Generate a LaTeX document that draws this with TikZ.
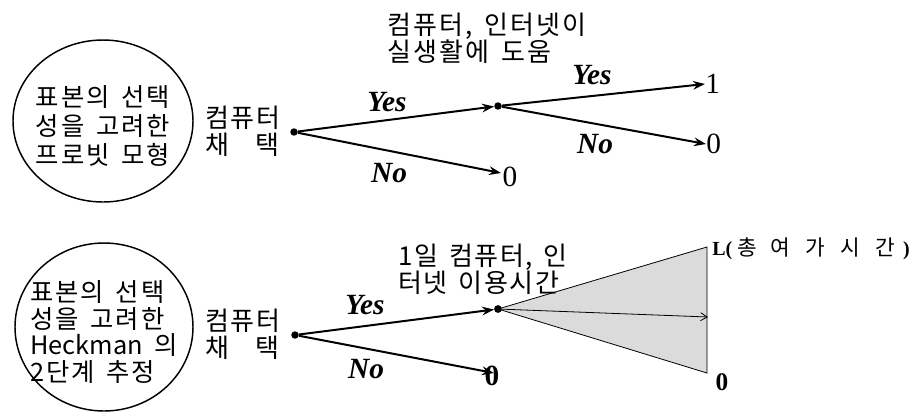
\documentclass[tikz,border=0pt]{standalone}
\usepackage{fontspec}
\setmainfont{Liberation Serif}
\newfontfamily\kfont[LetterSpace=8,WordSpace=1.5]{Noto Sans CJK KR}
\newfontfamily\kfontn[LetterSpace=6,WordSpace=1.5]{Noto Sans CJK KR}
\newfontfamily\kfontl[WordSpace=1.5]{Noto Sans CJK KR}
\newfontfamily\kfontw[LetterSpace=72]{Noto Sans CJK KR}
\usetikzlibrary{arrows.meta,shapes.geometric}
\begin{document}
\begin{tikzpicture}[x=0.75pt,y=-0.75pt,
  kor/.style={font=\kfontn\fontsize{19.5pt}{20.5pt}\selectfont, align=left, inner sep=0pt},
  bub/.style={font=\kfont\fontsize{19pt}{21.75pt}\selectfont, align=left, inner sep=0pt},
  yn/.style={font=\fontsize{22pt}{24pt}\selectfont\bfseries\itshape, inner sep=0pt},
  num/.style={font=\fontsize{22pt}{24pt}\selectfont, inner sep=0pt},
  dotnode/.style={circle, fill=black, inner sep=0pt, minimum size=5.6pt},
  tree/.style={line width=1.5pt, -{Stealth[length=9pt,width=6.5pt,inset=3pt]}},
  bubble/.style={draw, ellipse, line width=1.1pt, inner sep=0pt},
]
\useasboundingbox (0,0) rectangle (922,412);

% ---------- top ----------
\node[bubble, minimum width=135pt, minimum height=121.5pt] (c1) at (103,121) {};
\node[bub] (t1) at (103,126) {표본의 선택\\성을 고려한\\프로빗 모형};
\node[kor, anchor=west] (a1) at (205,131) {컴퓨터\\채\hspace{1em}택};

\node[dotnode] (d1) at (294,132) {};
\node[dotnode] (m1) at (498,106) {};
\node[num, anchor=west] (one) at (705,84) {1};
\node[num, anchor=west] (z1) at (706,144) {0};
\node[num] (z0) at (510,177) {0};
\coordinate (z0t) at (501,173);

\draw[tree] (d1) -- (m1);
\draw[tree] (d1) -- (z0t);
\draw[tree] (m1) -- (one.west);
\draw[tree] (m1) -- (z1.west);

\node[yn] (y1) at (387,102) {Yes};
\node[yn] (n1) at (389,173) {No};
\node[yn] (y2) at (592,75) {Yes};
\node[yn] (n2) at (595,144) {No};
\node[kor, anchor=west, font=\kfont\fontsize{19.5pt}{20.5pt}\selectfont] (q1) at (387,38) {컴퓨터, 인터넷이\\실생활에 도움};

% ---------- bottom ----------
\node[bubble, minimum width=133.5pt, minimum height=126pt] (c2) at (104,327) {};
\node[bub, font=\kfont\fontsize{19pt}{20pt}\selectfont] (t2) at (104,332) {표본의 선택\\성을 고려한\\{\kfontl Heckman} 의\\2단계 추정};
\node[kor, anchor=west] (a2) at (205,334) {컴퓨터\\채\hspace{1em}택};

\node[dotnode] (d2) at (295,335) {};
\node[dotnode] (m2) at (498,309) {};
\coordinate (tu) at (707,247);
\coordinate (tl) at (707,373);
\coordinate (tm) at (708,317);
\filldraw[fill=black!14, draw=black, line width=0.6pt] (m2.center) -- (tu) -- (tl) -- cycle;
\draw[line width=0.6pt, -{Straight Barb[length=5pt,width=6pt]}] (m2) -- (tm);
\node[dotnode] at (m2) {};

\node[num, font=\fontsize{22pt}{24pt}\selectfont\bfseries] (z2) at (492,376) {0};
\coordinate (z2t) at (494,373);
\draw[tree] (d2) -- (m2);
\draw[tree] (d2) -- (z2t);

\node[yn] (y3) at (365,305) {Yes};
\node[yn] (n3) at (366,369) {No};
\node[kor, anchor=west] (q2) at (398,269) {1일 컴퓨터, 인\\터넷 이용시간};

\node[anchor=west, inner sep=0pt] (lab) at (712,249) {\fontsize{15pt}{17pt}\selectfont\bfseries L(\hspace{4pt}\kfontw\mdseries\fontsize{16pt}{17pt}\selectfont 총\hspace{10pt}여가시간\hspace{6pt}\normalfont\fontsize{15pt}{17pt}\selectfont\bfseries)};
\node[inner sep=0pt, font=\fontsize{19pt}{21pt}\selectfont\bfseries] (zb) at (722,382) {0};
\end{tikzpicture}
\end{document}
